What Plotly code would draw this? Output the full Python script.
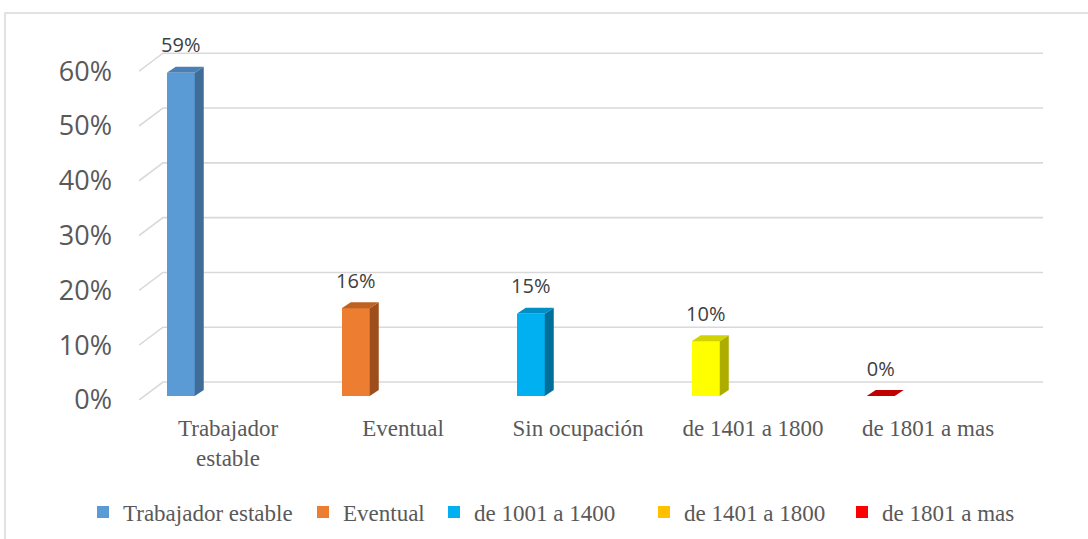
import plotly.graph_objects as go

# ---------------- data ----------------
categories = ["Trabajador estable", "Eventual", "Sin ocupación", "de 1401 a 1800", "de 1801 a mas"]
values = [0.59, 0.16, 0.15, 0.10, 0.0]
legend_names = ["Trabajador estable", "Eventual", "de 1001 a 1400", "de 1401 a 1800", "de 1801 a mas"]
legend_colors = ["#5B9BD5", "#ED7D31", "#00B0F0", "#FFC000", "#FF0000"]
bar_colors = ["#5B9BD5", "#ED7D31", "#00B0F0", "#FFFF00", "#C00000"]
top_colors = ["#4A80B6", "#BE6224", "#008FC4", "#D2D200", "#C00000"]
side_colors = ["#3F6D98", "#9E4E1C", "#00709A", "#ADAD00", "#A00000"]
tick_values = [0, 0.1, 0.2, 0.3, 0.4, 0.5, 0.6]

# ---------------- geometry / style ----------------
W, H = 1088, 539
PL, PR, PT, PB = 139, 1043, 20, 400          # plot area in px
X_RANGE = [-0.5086, 4.657]
Y_RANGE = [0, (PB - PT) / 548]
BAR_OFFSET = -0.27
BAR_W = 0.16
DX = 0.0514
DY = 0.011
BASE = 0.0073
WALL_DX = 0.137
WALL_DY = 0.0328
GRID_COLOR = "#D9D9D9"
SERIF = "Times New Roman, Liberation Serif, serif"
SANS = "Open Sans, Noto Sans, sans-serif"
LEGEND_SQ_PX = [100, 320, 451, 661, 859]     # legend square centres (px)
LEGEND_Y_PX = 512


def px_to_paper_x(px):
    return (px - PL) / (PR - PL)


def px_to_paper_y(py):
    return (PB - py) / (PB - PT)


fig = go.Figure()

# gridlines on the back wall with the left side-wall edge (base subplot, drawn underneath)
gx, gy = [], []
for v in tick_values:
    gx += [X_RANGE[0], X_RANGE[0] + WALL_DX, X_RANGE[1], None]
    gy += [v, v + WALL_DY, v + WALL_DY, None]
fig.add_trace(go.Scatter(x=gx, y=gy, mode="lines", line=dict(color=GRID_COLOR, width=1.6),
                         hoverinfo="skip", showlegend=False, cliponaxis=False,
                         xaxis="x", yaxis="y"))

bar_x = [i + BAR_OFFSET for i in range(len(categories))]

# front faces (overlay subplot, on top of gridlines)
fig.add_trace(go.Bar(x=bar_x, y=values, base=BASE, width=BAR_W,
                     marker=dict(color=bar_colors, line=dict(width=0)),
                     hoverinfo="skip", showlegend=False, xaxis="x2", yaxis="y2"))

# side and top faces
for i, (xc, v) in enumerate(zip(bar_x, values)):
    xl, xr = xc - BAR_W / 2, xc + BAR_W / 2
    yb, yt = BASE, BASE + v
    if v > 0:
        fig.add_trace(go.Scatter(
            x=[xr, xr + DX, xr + DX, xr, xr], y=[yb, yb + DY, yt + DY, yt, yb],
            fill="toself", fillcolor=side_colors[i], mode="lines",
            line=dict(width=0, color=side_colors[i]),
            hoverinfo="skip", showlegend=False, xaxis="x2", yaxis="y2"))
    fig.add_trace(go.Scatter(
        x=[xl, xl + DX, xr + DX, xr, xl], y=[yt, yt + DY, yt + DY, yt, yt],
        fill="toself", fillcolor=top_colors[i], mode="lines",
        line=dict(width=0, color=top_colors[i]),
        hoverinfo="skip", showlegend=False, xaxis="x2", yaxis="y2"))

# data labels
fig.add_trace(go.Scatter(
    x=bar_x, y=[BASE + v + 0.0465 for v in values], mode="text",
    text=[f"{v:.0%}" for v in values], textposition="middle center",
    textfont=dict(family=SANS, size=20, color="#404040"),
    hoverinfo="skip", showlegend=False, cliponaxis=False, xaxis="x2", yaxis="y2"))

# legend entries, one legend each so that they can be placed like the original
legend_layouts = {}
for k, (name, col) in enumerate(zip(legend_names, legend_colors)):
    lname = "legend" if k == 0 else f"legend{k + 1}"
    fig.add_trace(go.Scatter(x=[None], y=[None], mode="markers", name=name, legend=lname,
                             marker=dict(symbol="square", size=12, color=col),
                             xaxis="x2", yaxis="y2"))
    legend_layouts[lname] = dict(
        orientation="h", x=px_to_paper_x(LEGEND_SQ_PX[k] - 17), xanchor="left",
        y=px_to_paper_y(LEGEND_Y_PX), yanchor="middle",
        font=dict(family=SERIF, size=23, color="#595959"),
        bgcolor="rgba(0,0,0,0)", borderwidth=0, itemclick=False, itemdoubleclick=False)

tick_text = [c.replace("Trabajador estable", "Trabajador<br>estable") for c in categories]

fig.update_layout(
    width=W, height=H,
    margin=dict(l=PL, r=W - PR, t=PT, b=H - PB, autoexpand=False),
    paper_bgcolor="white", plot_bgcolor="white",
    xaxis=dict(range=X_RANGE, tickvals=list(range(len(categories))), ticktext=tick_text,
               showgrid=False, zeroline=False, showline=False, automargin=False,
               tickfont=dict(family=SERIF, size=23, color="#595959"), ticklabelstandoff=12),
    yaxis=dict(range=Y_RANGE, tickvals=tick_values, tickformat=".0%",
               showgrid=False, zeroline=False, showline=False, automargin=False,
               tickfont=dict(family=SANS, size=27, color="#595959"), ticklabelstandoff=26),
    xaxis2=dict(range=X_RANGE, overlaying="x", visible=False, automargin=False),
    yaxis2=dict(range=Y_RANGE, overlaying="y", visible=False, automargin=False),
    shapes=[dict(type="rect", xref="paper", yref="paper",
                 x0=px_to_paper_x(5), x1=px_to_paper_x(1095),
                 y0=px_to_paper_y(545), y1=px_to_paper_y(13),
                 line=dict(color="#D9D9D9", width=1.5), fillcolor="rgba(0,0,0,0)", layer="below")],
    bargap=0,
    **legend_layouts,
)

fig.write_html("out.html", config={"displayModeBar": False},
               post_script="document.body.style.margin='0';document.body.style.overflow='hidden';")
